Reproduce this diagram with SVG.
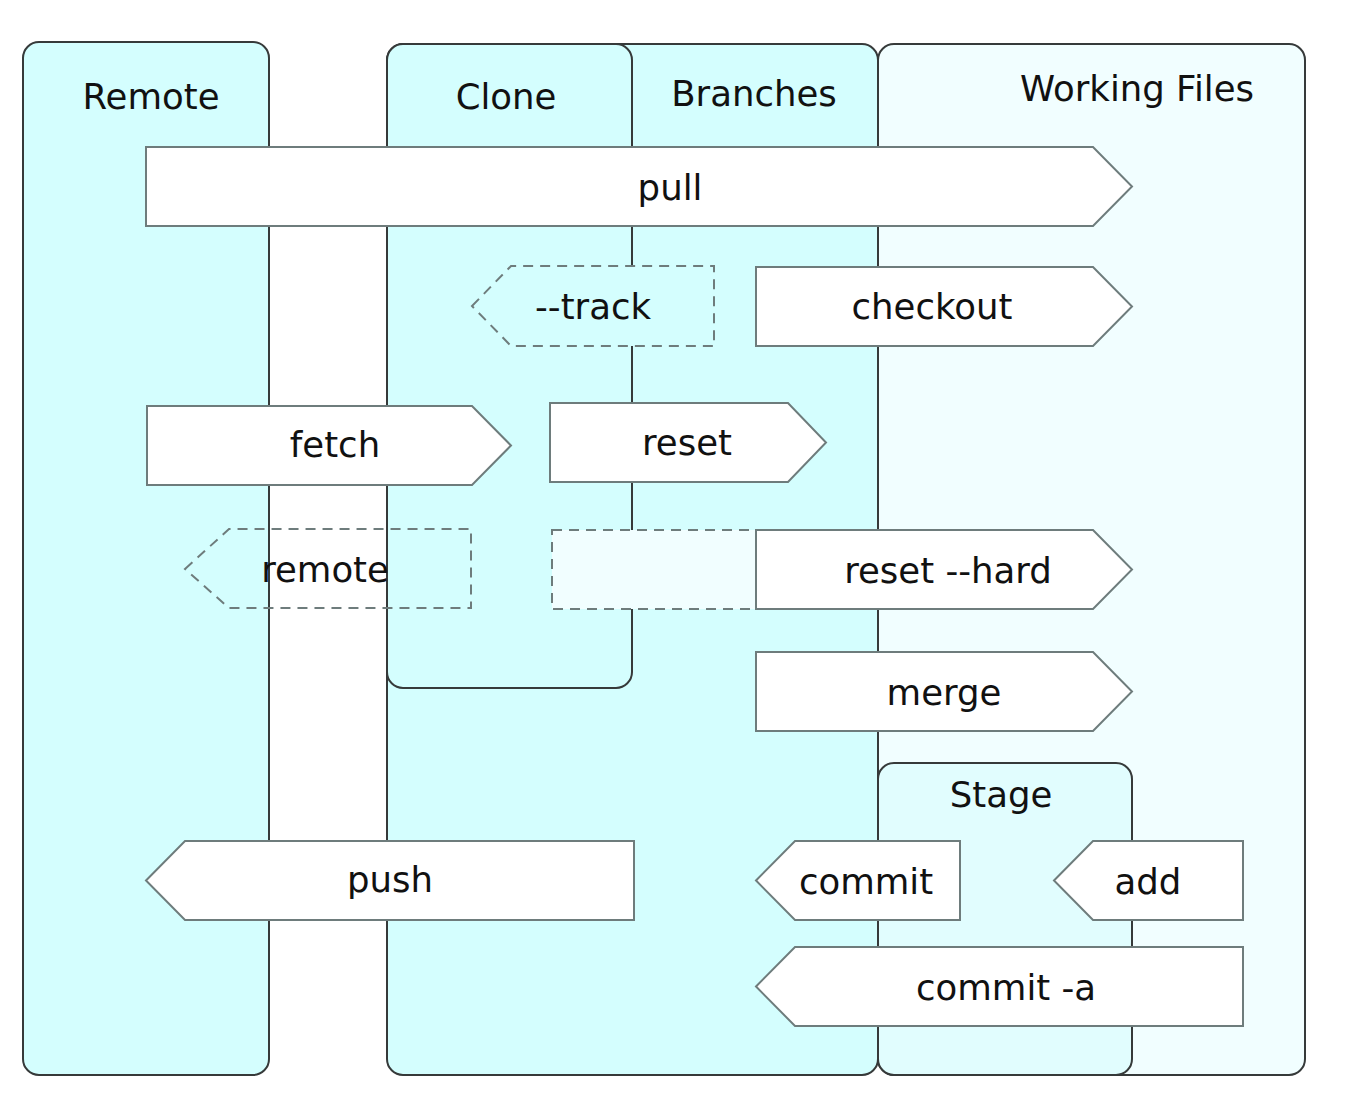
<svg xmlns="http://www.w3.org/2000/svg" width="1346" height="1098" viewBox="0 0 1346 1098">
<style>
.box{stroke:#363a3a;stroke-width:2}
.cyan{fill:#d4fefe}
.wf{fill:#f1feff}
.stage{fill:#e1fdfe}
.arr{fill:#ffffff;stroke:#6e7c7c;stroke-width:2}
.dash{stroke:#6e7c7c;stroke-width:2;stroke-dasharray:10 7}
text{font-family:"DejaVu Sans","Liberation Sans",sans-serif;font-size:35.5px;fill:#111;text-anchor:middle}
</style>
<rect width="1346" height="1098" fill="#ffffff"/>
<g id="remote">
<rect class="box cyan" x="23" y="42" width="246" height="1033" rx="16"/>
<text x="151" y="109">Remote</text>
</g>
<g id="branches">
<rect class="box cyan" x="387" y="44" width="491" height="1031" rx="16"/>
<text x="754" y="106">Branches</text>
</g>
<g id="clone">
<rect class="box cyan" x="387" y="44" width="245" height="644" rx="16"/>
<text x="506" y="109">Clone</text>
</g>
<g id="working-files">
<rect class="box wf" x="878" y="44" width="427" height="1031" rx="16"/>
<text x="1137" y="101">Working Files</text>
</g>
<g id="stage">
<rect class="box stage" x="878" y="763" width="254" height="312" rx="16"/>
<text x="1001" y="807">Stage</text>
</g>
<g id="connectors">
<g id="pull">
<path class="arr" d="M146,147 L1093,147 L1132,186.5 L1093,226 L146,226 Z"/>
<text x="670" y="200">pull</text>
</g>
<g id="track">
<path class="dash" fill="#d4fefe" d="M472,306 L511,266 L714,266 L714,346 L511,346 Z"/>
<text x="593" y="319">--track</text>
</g>
<g id="checkout">
<path class="arr" d="M756,267 L1093,267 L1132,306.5 L1093,346 L756,346 Z"/>
<text x="932" y="319">checkout</text>
</g>
<g id="fetch">
<path class="arr" d="M147,406 L472,406 L511,445.5 L472,485 L147,485 Z"/>
<text x="335" y="457">fetch</text>
</g>
<g id="reset">
<path class="arr" d="M550,403 L788,403 L826,442.5 L788,482 L550,482 Z"/>
<text x="687" y="455">reset</text>
</g>
<g id="remote-cmd">
<path class="dash" fill="none" d="M185,569 L229,529 L471,529 L471,608 L229,608 Z"/>
<text x="325" y="582">remote</text>
</g>
<g id="reset-hard">
<rect class="dash" fill="#f1feff" x="552" y="530" width="204" height="79"/>
<path class="arr" d="M756,530 L1093,530 L1132,569.5 L1093,609 L756,609 Z"/>
<text x="948" y="583">reset --hard</text>
</g>
<g id="merge">
<path class="arr" d="M756,652 L1093,652 L1132,691.5 L1093,731 L756,731 Z"/>
<text x="944" y="705">merge</text>
</g>
<g id="push">
<path class="arr" d="M146,880.5 L185,841 L634,841 L634,920 L185,920 Z"/>
<text x="390" y="892">push</text>
</g>
<g id="commit">
<path class="arr" d="M756,880.5 L795,841 L960,841 L960,920 L795,920 Z"/>
<text x="866" y="894">commit</text>
</g>
<g id="add">
<path class="arr" d="M1054,880.5 L1093,841 L1243,841 L1243,920 L1093,920 Z"/>
<text x="1148" y="894">add</text>
</g>
<g id="commit-a">
<path class="arr" d="M756,986.5 L795,947 L1243,947 L1243,1026 L795,1026 Z"/>
<text x="1006" y="1000">commit -a</text>
</g>
</g>
</svg>
